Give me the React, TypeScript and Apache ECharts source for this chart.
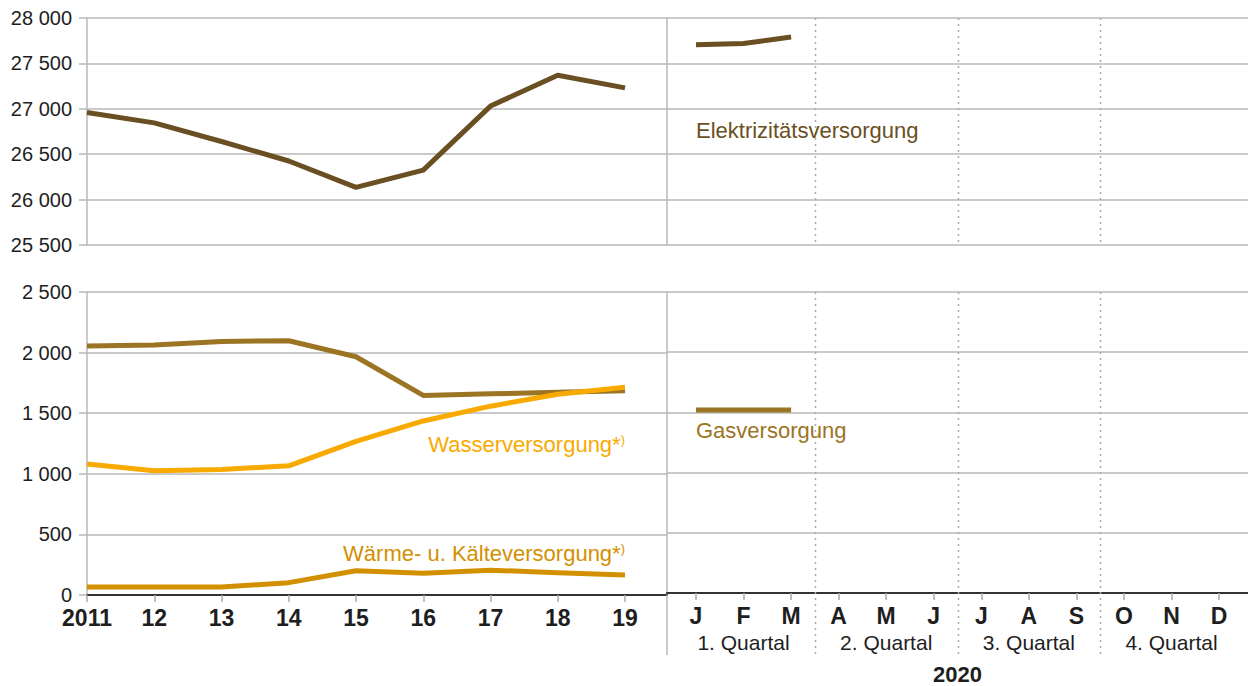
import React, { useEffect, useRef } from 'react';
import * as echarts from 'echarts';

// ---- data ----
const years = ['2011', '12', '13', '14', '15', '16', '17', '18', '19'];
const months = ['J', 'F', 'M', 'A', 'M', 'J', 'J', 'A', 'S', 'O', 'N', 'D'];
const quarters = ['1. Quartal', '2. Quartal', '3. Quartal', '4. Quartal'];
const yearLabel2020 = '2020';

const elektrizitaetYears = [26960, 26845, 26640, 26425, 26135, 26325, 27030, 27370, 27230];
const elektrizitaetMonths = [27705, 27720, 27790];
const gasYears = [2055, 2062, 2092, 2098, 1966, 1647, 1660, 1672, 1686];
const gasMonths = [1520, 1520, 1520];
const wasserYears = [1080, 1026, 1036, 1066, 1268, 1436, 1558, 1656, 1714];
const waermeYears = [66, 66, 66, 102, 200, 180, 205, 184, 165];

const topAxis = { min: 25500, max: 28000, interval: 500 };
const bottomAxis = { min: 0, max: 2500, interval: 500 };

// colours
const cElek = '#6a4f22';
const cGas = '#9b7424';
const cWasser = '#f9aa00';
const cWaerme = '#d29000';
const cGrid = '#b9b9b9';
const cText = '#1e1e1e';

const FONT = '"Liberation Sans", Arial, sans-serif';

const fmtThousands = (v: number) => String(v).replace(/\B(?=(\d{3})+(?!\d))/g, ' ');

// layout (pixels)
const LEFT = 87;
const SPLIT = 667;
const RIGHT_END = 1248;
const YEAR_STEP = 67.25;
const MONTH_STEP = 47.55;
const FIRST_MONTH_X = 696;

const yearMax = (SPLIT - LEFT) / YEAR_STEP;
const monthMin = -(FIRST_MONTH_X - SPLIT) / MONTH_STEP;
const monthMax = monthMin + (RIGHT_END - SPLIT) / MONTH_STEP;

const yearIdx = years.map((_, i) => i);
const monthIdx = months.map((_, i) => i);
const quarterIdx = quarters.map((_, i) => i * 3 + 1);
const quarterBounds = [2.5, 5.5, 8.5];

export default function App() {
  const ref = useRef<HTMLDivElement>(null);

  useEffect(() => {
    if (!ref.current) return;
    const chart = echarts.init(ref.current, undefined, { renderer: 'svg' });

    const grids = [
      { left: LEFT, top: 18, width: SPLIT - LEFT, height: 227 },
      { left: SPLIT, top: 18, width: RIGHT_END - SPLIT, height: 227 },
      { left: LEFT, top: 292, width: SPLIT - LEFT, height: 303 },
      { left: SPLIT, top: 292, width: RIGHT_END - SPLIT, height: 303 },
    ];

    const bottomLabel = {
      fontFamily: FONT,
      fontSize: 23,
      fontWeight: 'bold' as const,
      color: cText,
      margin: 11,
    };

    const xAxes: any[] = [
      { gridIndex: 0, type: 'value', min: 0, max: yearMax, show: false },
      { gridIndex: 1, type: 'value', min: monthMin, max: monthMax, show: false },
      {
        gridIndex: 2,
        type: 'value',
        min: 0,
        max: yearMax,
        axisLine: { show: true, onZero: false, lineStyle: { color: '#333', width: 2 } },
        axisTick: { show: true, length: 7, customValues: yearIdx, lineStyle: { color: '#aaa', width: 1.5 } },
        axisLabel: {
          ...bottomLabel,
          customValues: yearIdx,
          formatter: (v: number) => years[Math.round(v)] ?? '',
        },
        splitLine: { show: false },
      },
      {
        gridIndex: 3,
        type: 'value',
        min: monthMin,
        max: monthMax,
        axisLine: { show: true, onZero: false, lineStyle: { color: '#333', width: 2 } },
        axisTick: { show: true, length: 7, customValues: monthIdx, lineStyle: { color: '#aaa', width: 1.5 } },
        axisLabel: {
          ...bottomLabel,
          customValues: monthIdx,
          formatter: (v: number) => months[Math.round(v)] ?? '',
        },
        splitLine: { show: false },
        name: yearLabel2020,
        nameLocation: 'middle',
        nameGap: 70,
        nameTextStyle: { fontFamily: FONT, fontSize: 22, fontWeight: 'bold', color: cText },
      },
      {
        gridIndex: 3,
        type: 'value',
        position: 'bottom',
        offset: 28,
        min: monthMin,
        max: monthMax,
        axisLine: { show: false },
        axisTick: { show: false },
        splitLine: { show: false },
        axisLabel: {
          fontFamily: FONT,
          fontSize: 21,
          color: cText,
          margin: 11,
          customValues: quarterIdx,
          formatter: (v: number) => quarters[Math.round((v - 1) / 3)] ?? '',
        },
      },
    ];

    const yLeft = (ax: any, gridIndex: number) => ({
      gridIndex,
      type: 'value',
      ...ax,
      axisLine: { show: true, onZero: false, lineStyle: { color: cGrid, width: 1.5 } },
      axisTick: { show: true, length: 8, lineStyle: { color: cGrid, width: 1.5 } },
      axisLabel: { fontFamily: FONT, fontSize: 20, color: cText, margin: 15, formatter: fmtThousands },
      splitLine: { show: true, lineStyle: { color: cGrid, width: 1.5 } },
    });
    const yRight = (ax: any, gridIndex: number) => ({
      gridIndex,
      type: 'value',
      ...ax,
      axisLine: { show: true, onZero: false, lineStyle: { color: cGrid, width: 1.5 } },
      axisTick: { show: false },
      axisLabel: { show: false },
      splitLine: { show: true, lineStyle: { color: cGrid, width: 1.5 } },
    });

    const line = (name: string, color: string, xi: number, yi: number, vals: number[], z = 2) => ({
      name,
      type: 'line',
      xAxisIndex: xi,
      yAxisIndex: yi,
      data: vals.map((v, i) => [i, v]),
      symbol: 'none',
      z,
      lineStyle: { color, width: 5, cap: 'butt', join: 'round' },
      itemStyle: { color },
      emphasis: { disabled: true },
    });

    chart.setOption({
      animation: false,
      grid: grids,
      xAxis: xAxes,
      yAxis: [yLeft(topAxis, 0), yRight(topAxis, 1), yLeft(bottomAxis, 2), yRight(bottomAxis, 3)],
      series: [
        line('Elektrizitätsversorgung', cElek, 0, 0, elektrizitaetYears),
        line('Elektrizitätsversorgung Monate', cElek, 1, 1, elektrizitaetMonths),
        line('Gasversorgung', cGas, 2, 2, gasYears),
        line('Gasversorgung Monate', cGas, 3, 3, gasMonths),
        line('Wärme- u. Kälteversorgung', cWaerme, 2, 2, waermeYears),
        line('Wasserversorgung', cWasser, 2, 2, wasserYears, 3),
      ],
    });

    // separators computed from the axes' scales
    const px = (xi: number, v: number) => chart.convertToPixel({ xAxisIndex: xi }, v) as number;
    const py = (yi: number, v: number) => chart.convertToPixel({ yAxisIndex: yi }, v) as number;
    const topY0 = py(0, topAxis.max);
    const topY1 = py(0, topAxis.min);
    const botY0 = py(2, bottomAxis.max);
    const botY1 = py(2, bottomAxis.min);
    const below = botY1 + 60;
    const dotted = { stroke: '#aaa', lineWidth: 1.5, lineDash: [2, 4] };

    const graphics: any[] = [];
    const sx = px(3, monthMin);
    graphics.push({
      type: 'line',
      shape: { x1: sx, y1: botY1, x2: sx, y2: below },
      style: { stroke: cGrid, lineWidth: 1.5 },
      z: 1,
    });
    quarterBounds.forEach((q) => {
      const x = Math.round(px(3, q)) + 0.5;
      graphics.push({ type: 'line', shape: { x1: x, y1: topY0, x2: x, y2: topY1 }, style: dotted, z: 1 });
      graphics.push({ type: 'line', shape: { x1: x, y1: botY0, x2: x, y2: below }, style: dotted, z: 1 });
    });

    const label = (text: string, x: number, y: number, color: string, align: string) => ({
      type: 'text',
      x,
      y,
      z: 10,
      style: {
        text,
        fill: color,
        fontFamily: FONT,
        fontSize: 22,
        align,
        verticalAlign: 'middle',
        rich: {
          s: { fontSize: 13, fill: color, fontFamily: FONT, verticalAlign: 'top', padding: [0, 0, 10, 0] },
        },
      },
    });
    graphics.push(label('Elektrizitätsversorgung', px(1, 0), 130, cElek, 'left'));
    graphics.push(label('Gasversorgung', px(3, 0), 430, cGas, 'left'));
    graphics.push(label('Wasserversorgung*{s|)}', px(2, 8), 444, cWasser, 'right'));
    graphics.push(label('Wärme- u. Kälteversorgung*{s|)}', px(2, 8), 553, cWaerme, 'right'));

    chart.setOption({ graphic: graphics });

    return () => chart.dispose();
  }, []);

  return (
    <div
      ref={ref}
      style={{ position: 'absolute', left: 0, top: 0, width: 1248, height: 686, background: '#fff' }}
    />
  );
}
